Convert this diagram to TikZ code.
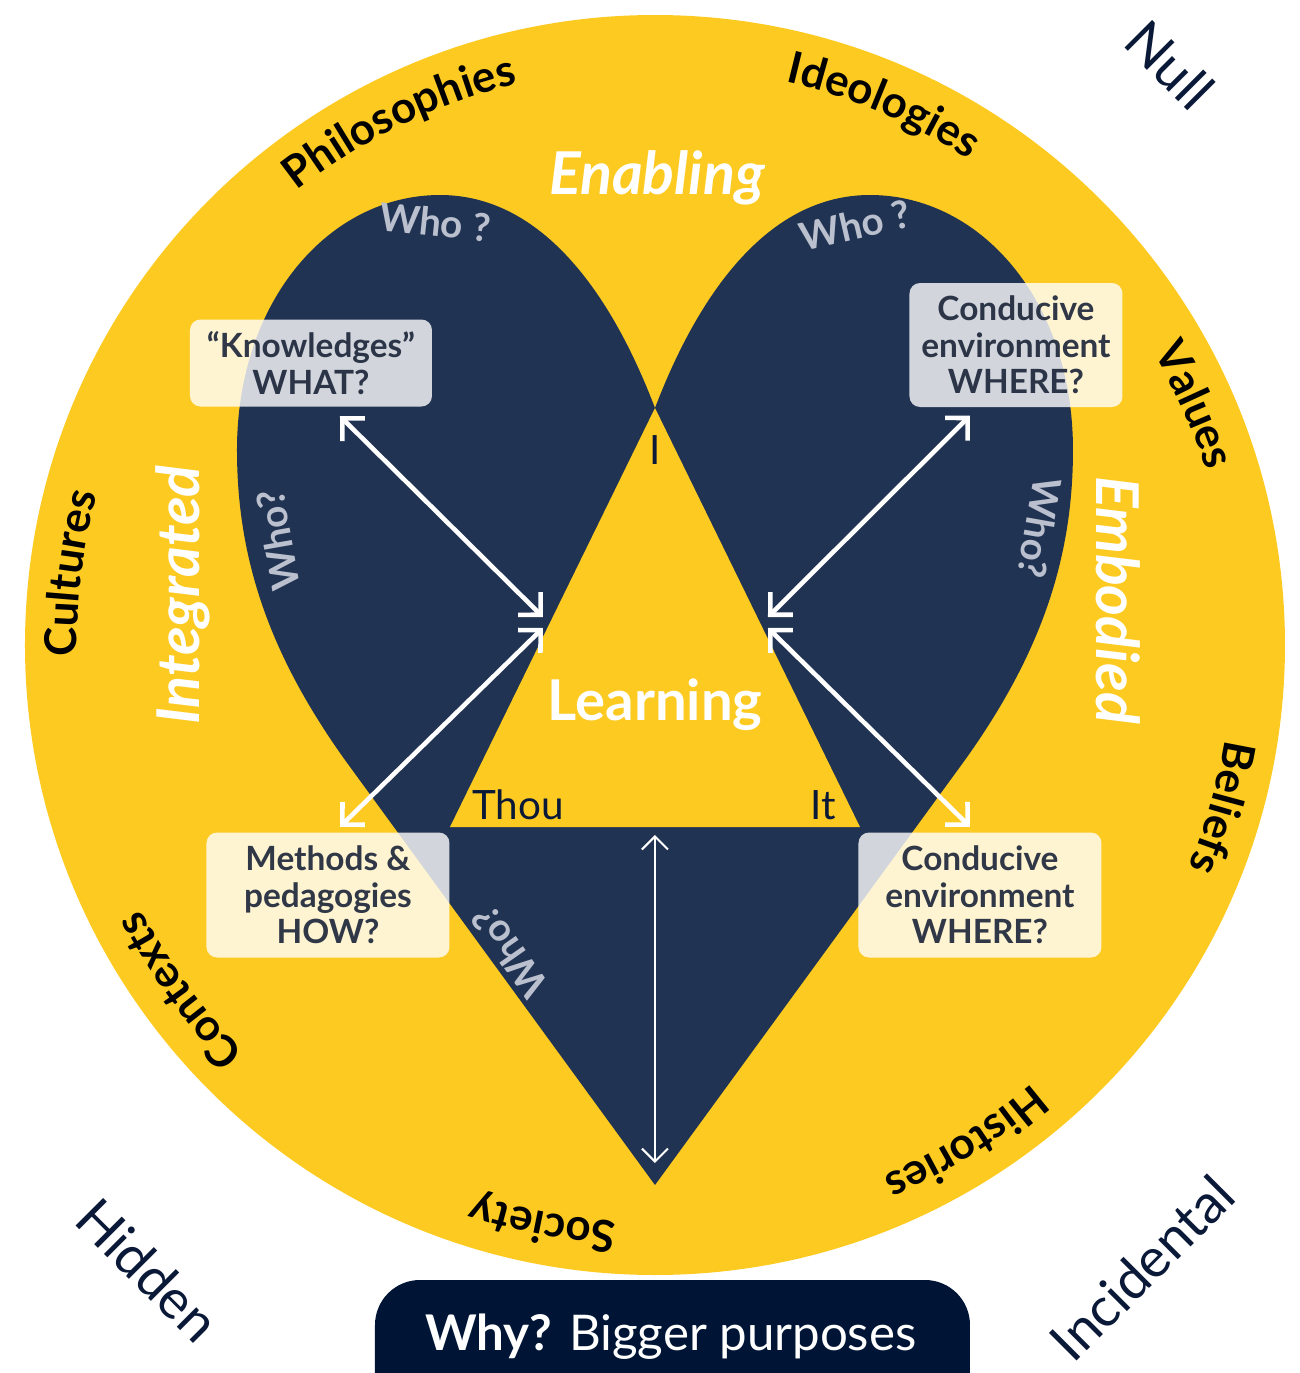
\documentclass[tikz,border=0pt]{standalone}
\usepackage{fontspec}
\setmainfont{Lato}
\usetikzlibrary{arrows.meta,decorations.text}

\definecolor{ringyellow}{HTML}{FDCA22}
\definecolor{heartnavy}{HTML}{213352}
\definecolor{whynavy}{HTML}{001535}
\definecolor{outernavy}{HTML}{0A1937}
\definecolor{whogray}{HTML}{BAC0CE}
\definecolor{boxtext}{HTML}{1A2337}

\newcommand{\ringfont}{\bfseries\fontsize{12.5pt}{14pt}\selectfont}

\tikzset{
	infobox/.style={rounded corners=3pt, fill=white, fill opacity=0.8, text opacity=0.9, text=boxtext,
		font=\bfseries\fontsize{9.5pt}{10.4pt}\selectfont, align=center, inner sep=0pt},
	bigarrow/.style={draw=white, line width=1.3pt,
		{Straight Barb[length=1.6mm,width=3.2mm]}-{Straight Barb[length=1.6mm,width=3.2mm]}},
	thinarrow/.style={draw=white, line width=0.6pt,
		{Straight Barb[length=1.3mm,width=2.6mm]}-{Straight Barb[length=1.3mm,width=2.6mm]}},
	bigword/.style={text=white, font=\bfseries\itshape\fontsize{16.8pt}{19pt}\selectfont},
	wholabel/.style={text=whogray, font=\bfseries\fontsize{11pt}{13pt}\selectfont},
	cornerlabel/.style={text=outernavy, font=\fontsize{11.5pt}{13pt}\selectfont},
	outerlabel/.style={text=outernavy, font=\fontsize{15.5pt}{18pt}\selectfont}
}

\begin{document}
\begin{tikzpicture}
			\useasboundingbox (-6.55,-7.28) rectangle (6.45,6.45);
			
			%ring
			\fill[ringyellow] (0,0) circle (6.30);
			\foreach \ang/\word in {116/Philosophies, 67/Ideologies, 24/Values, -16/Beliefs,
				-58/Histories, -101/Society, -144/Contexts, 173/Cultures}{
				\path[decorate, decoration={text along path, text/.expanded={|\noexpand\ringfont|\word},
					text align=center}] ({\ang+45}:5.78) arc[start angle=\ang+45, end angle=\ang-45, radius=5.78];
			}
			
			%heart
			\coordinate (apex) at (0,2.37);
			\coordinate (hearttip) at (0,-5.40);
			\fill[heartnavy] (hearttip) -- (-3.10,-1.15)
				.. controls (-3.85,-0.10) and (-4.18,0.85) .. (-4.18,1.95)
				.. controls (-4.18,3.45) and (-3.25,4.50) .. (-2.15,4.50)
				.. controls (-1.15,4.50) and (-0.45,3.55) .. (apex)
				.. controls (0.45,3.55) and (1.15,4.50) .. (2.15,4.50)
				.. controls (3.25,4.50) and (4.18,3.45) .. (4.18,1.95)
				.. controls (4.18,0.85) and (3.85,-0.10) .. (3.10,-1.15) -- cycle;
			
			%triangle
			\coordinate (thoucorner) at (-2.05,-1.82);
			\coordinate (itcorner) at (2.05,-1.82);
			\coordinate (basemid) at (0,-1.82);
			\fill[ringyellow] (apex) -- (thoucorner) -- (itcorner) -- cycle;
			\coordinate (learnUL) at (-1.12,0.28);
			\coordinate (learnLL) at (-1.12,0.17);
			\coordinate (learnUR) at (1.13,0.28);
			\coordinate (learnLR) at (1.13,0.17);
			
			\node[bigword] (enab) at (0.02,4.67) {Enabling};
			\node[bigword, rotate=90] (integ) at (-4.72,0.50) {Integrated};
			\node[bigword, rotate=-90] (embod) at (4.63,0.45) {Embodied};
			
			\node[wholabel, rotate=-6] (who1) at (-2.20,4.23) {Who ?};
			\node[wholabel, rotate=13] (who2) at (2.00,4.20) {Who ?};
			\node[wholabel, rotate=100] (who3) at (-3.77,1.05) {Who?};
			\node[wholabel, rotate=-100] (who4) at (3.85,1.17) {Who?};
			\node[wholabel, rotate=125] (who5) at (-1.45,-3.07) {Who?};
			
			\node[cornerlabel] (ilabel) at (0,1.95) {I};
			\node[cornerlabel] (thou) at (-1.37,-1.60) {Thou};
			\node[cornerlabel] (it) at (1.68,-1.60) {It};
			\node[text=white, font=\bfseries\fontsize{16pt}{19pt}\selectfont] (learn) at (0,-0.60) {Learning};
			
			%boxes
			\node[infobox, minimum width=2.42cm, minimum height=0.87cm] (know) at (-3.44,2.82) {“Knowledges”\\WHAT?};
			\node[infobox, minimum width=2.13cm, minimum height=1.24cm] (envtop) at (3.61,3.00) {Conducive\\environment\\WHERE?};
			\node[infobox, minimum width=2.43cm, minimum height=1.25cm] (method) at (-3.27,-2.50) {Methods \&\\pedagogies\\HOW?};
			\node[infobox, minimum width=2.43cm, minimum height=1.25cm] (envbot) at (3.25,-2.50) {Conducive\\environment\\WHERE?};
			
			\draw[bigarrow] ([xshift=2.9mm,yshift=-0.9mm]know.south) -- (learnUL);
			\draw[bigarrow] ([xshift=1.2mm,yshift=0.5mm]method.north) -- (learnLL);
			\draw[bigarrow] ([xshift=-4.6mm,yshift=-0.8mm]envtop.south) -- (learnUR);
			\draw[bigarrow] ([xshift=-1mm,yshift=0.5mm]envbot.north) -- (learnLR);
			\draw[thinarrow] ([yshift=-0.8mm]basemid) -- ([yshift=2.2mm]hearttip);
			
			%outside
			\node[outerlabel, rotate=-45] (null) at (5.15,5.80) {Null};
			\node[outerlabel, rotate=45] (incid) at (4.87,-6.23) {Incidental};
			\node[outerlabel, rotate=-45] (hidden) at (-5.07,-6.25) {Hidden};
			
			\fill[whynavy] (-2.80,-7.28) -- (-2.80,-6.80) arc[start angle=180, end angle=90, radius=0.45]
				-- (2.70,-6.35) arc[start angle=90, end angle=0, radius=0.45] -- (3.15,-7.28) -- cycle;
			\node[anchor=base, text=white, font=\fontsize{14pt}{17pt}\selectfont] (why) at (0.16,-7.05) {\textbf{Why?} Bigger purposes};
\end{tikzpicture}
\end{document}
